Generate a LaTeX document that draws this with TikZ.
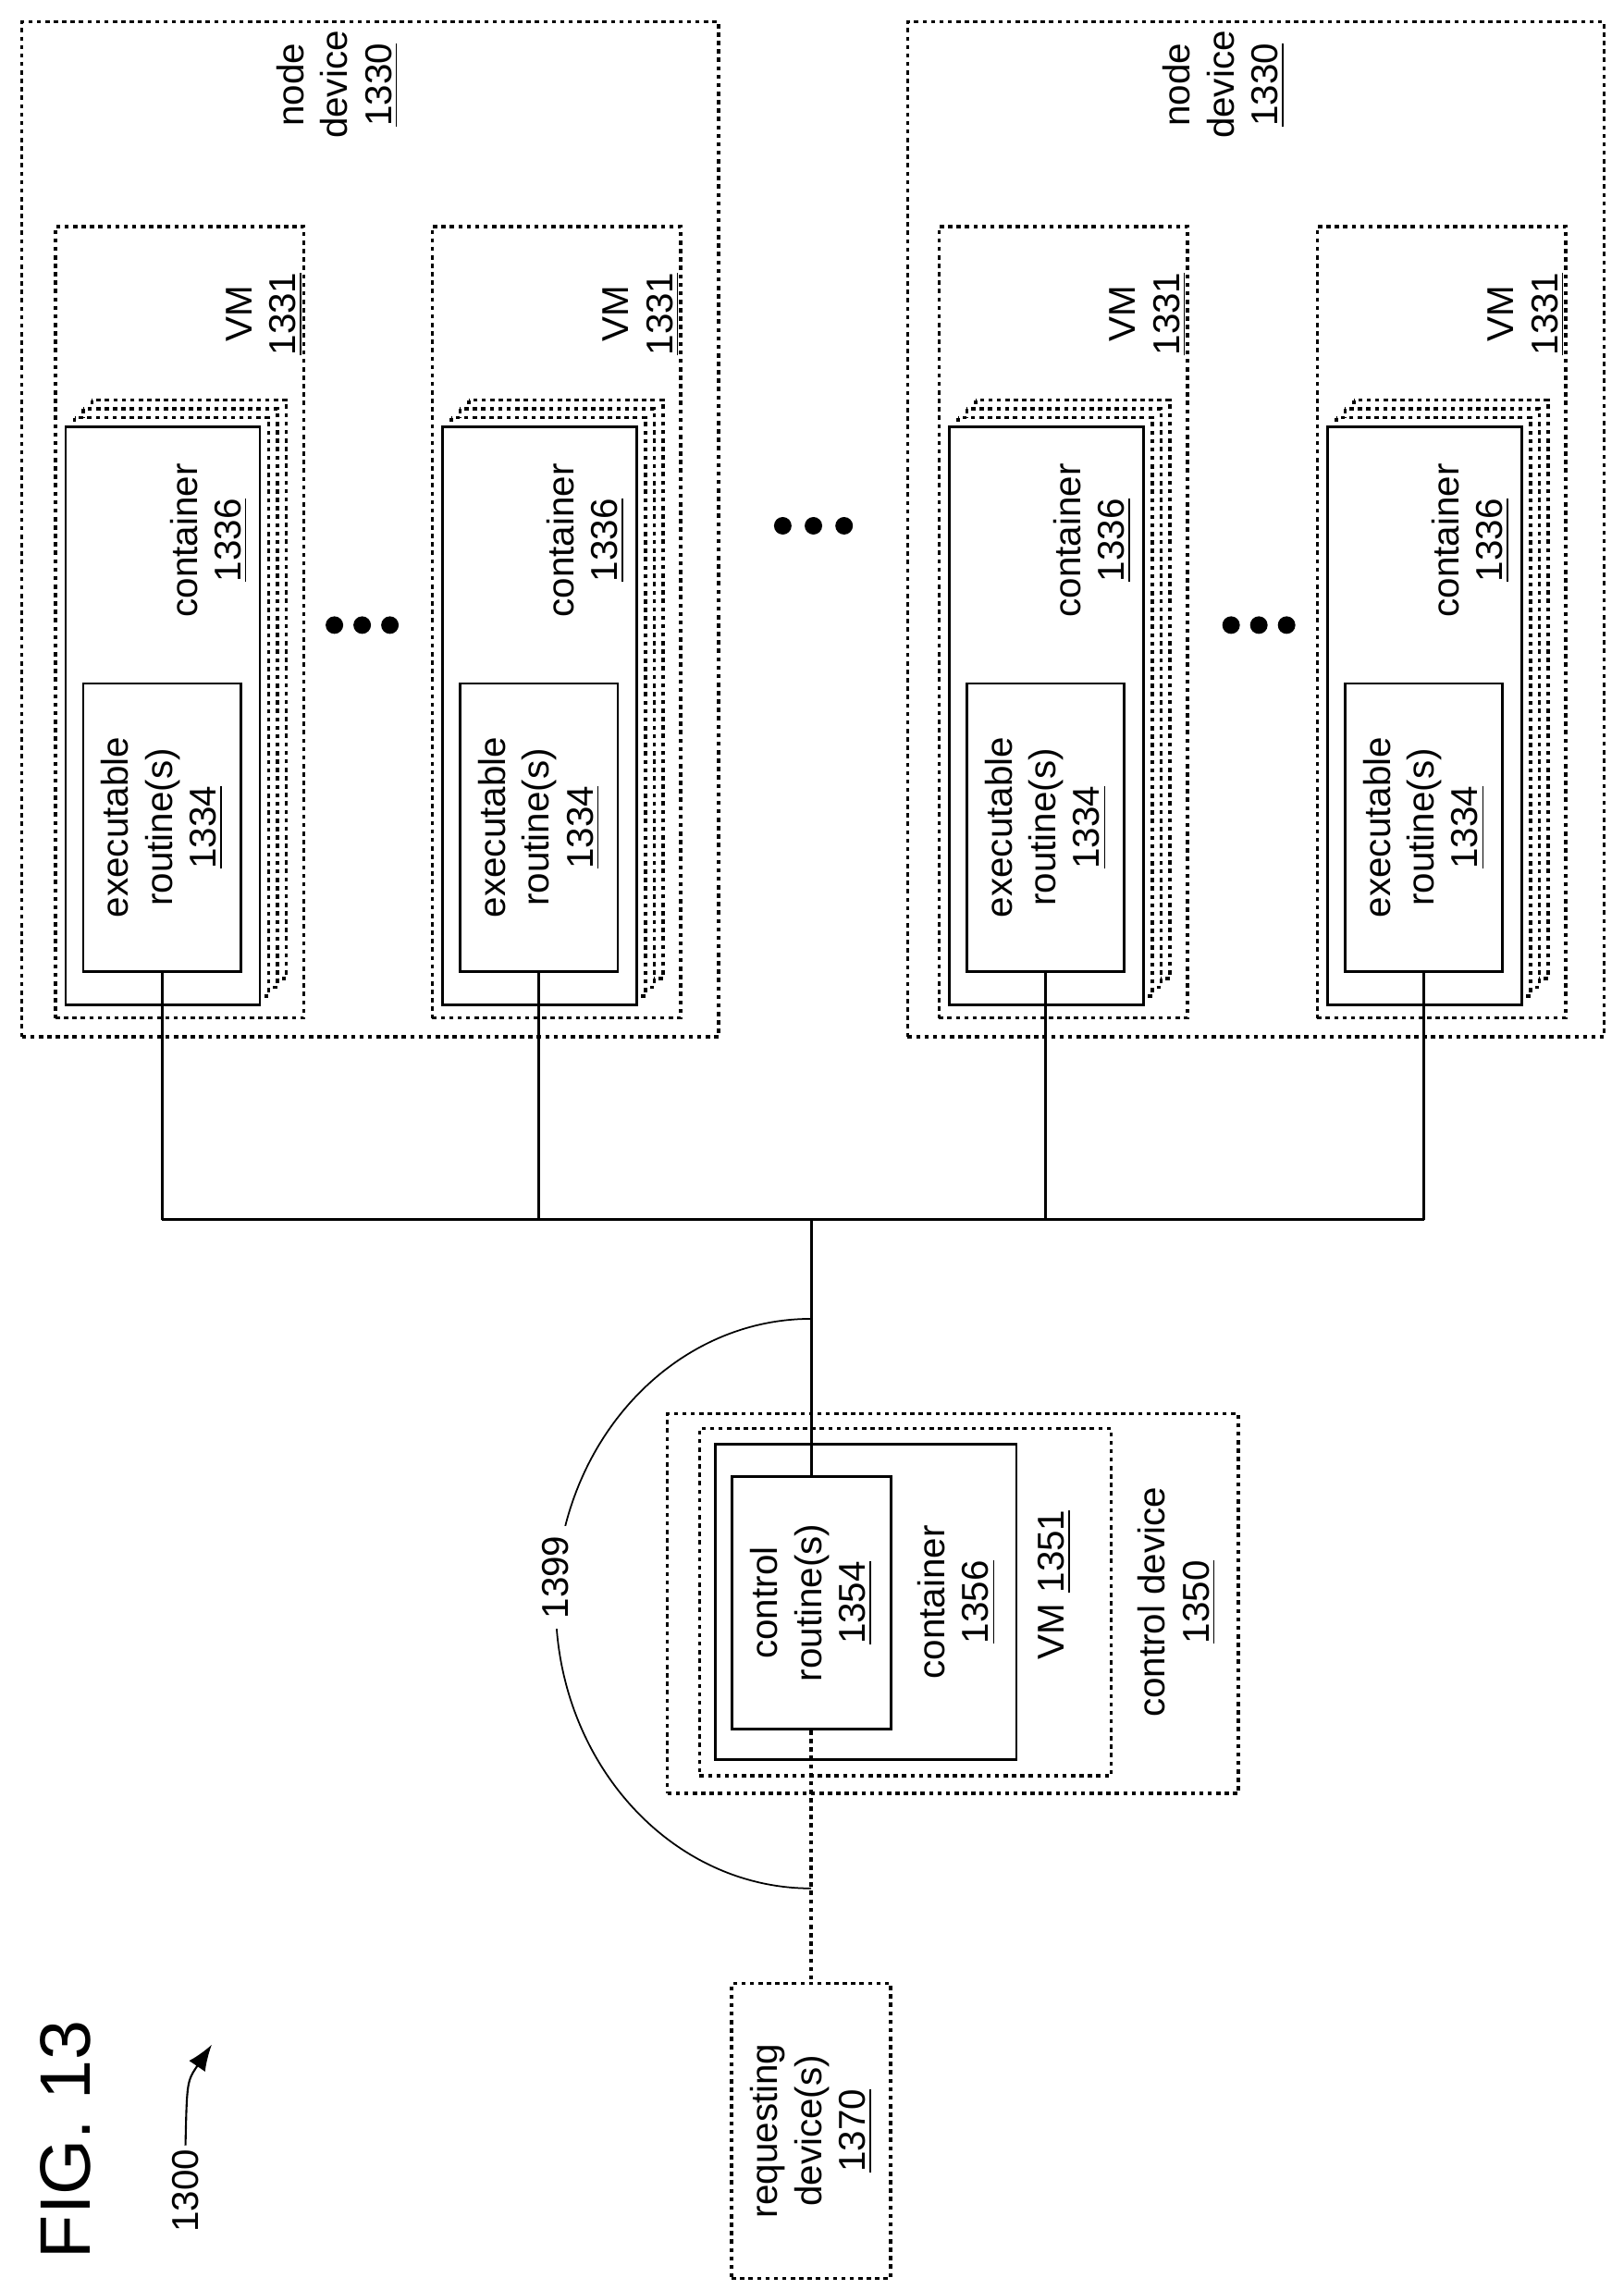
\documentclass[tikz,border=0pt]{standalone}
\usepackage{fontspec}
\setmainfont{Liberation Sans}
\usetikzlibrary{arrows.meta}
\def\u{0.01581cm}
\begin{document}
\begin{tikzpicture}[x=0.01581cm,y=-0.01581cm,
    dev/.style={draw,dash pattern=on 1.3pt off 1.3pt,line width=1pt,inner sep=0pt},
    box/.style={draw,line width=0.8pt,inner sep=0pt},
    lbl/.style={rotate=90,align=center,inner sep=1pt,font=\fontsize{11.5}{13.5}\selectfont}]
  \useasboundingbox (0,0) rectangle (1112,1568);
  %node devices
  \node[dev,minimum width=477*\u,minimum height=695*\u] (nd1) at (253.5,362.5) {};
  \node[dev,minimum width=477*\u,minimum height=695*\u] (nd2) at (860,362.5) {};
  \node[lbl] at (231,58) {node\\device\\\underline{1330}};
  \node[lbl] at (838,58) {node\\device\\\underline{1330}};
  \coordinate (bus) at (555.5,835);
  %VMs with containers
  \foreach \o/\n in {0/a,258/b,605/c,864/d} {
    \node[dev,minimum width=170*\u,minimum height=542*\u] (vm\n) at (123+\o,426) {};
    \node[lbl] at (181+\o,215) {VM\\\underline{1331}};
    \foreach \k in {3,2,1}
      \draw[dash pattern=on 1.3pt off 1.3pt,line width=1pt,fill=white]
        (45+\o+6*\k,292-6*\k) rectangle (178+\o+6*\k,688-6*\k);
    \node[box,fill=white,minimum width=133*\u,minimum height=396*\u] (ct\n) at (111.5+\o,490) {};
    \node[lbl] at (143+\o,370) {container\\\underline{1336}};
    \node[box,minimum width=108*\u,minimum height=197*\u] (ex\n) at (111+\o,566.5) {};
    \node[lbl] at (111+\o,566.5) {executable\\routine(s)\\\underline{1334}};
    \draw[line width=0.8pt] (ex\n.south) -- (ex\n.south |- bus);
  }
  \draw[line width=0.8pt] (exa.south |- bus) -- (exd.south |- bus);
  %ellipses
  \foreach \p in {(229,428),(248,428),(267,428),(536,360),(557,360),(578,360),(843,428),(862,428),(881,428)}
    \fill \p circle[radius=0.095cm];
  %control device
  \node[dev,minimum width=391*\u,minimum height=260*\u] (cd) at (652.5,1098) {};
  \node[dev,minimum width=282*\u,minimum height=238*\u] (cv) at (620,1097) {};
  \node[box,minimum width=206*\u,minimum height=216*\u] (cc) at (593,1097) {};
  \node[box,minimum width=109*\u,minimum height=173*\u] (cr) at (555.5,1097.5) {};
  \node[lbl] at (555.5,1097.5) {control\\routine(s)\\\underline{1354}};
  \node[lbl] at (655,1097) {container\\\underline{1356}};
  \node[lbl] at (722,1085) {VM \underline{1351}};
  \node[lbl] at (806,1097) {control device\\\underline{1350}};
  \draw[line width=0.8pt] (bus) -- (cr.north);
  %requesting device
  \node[dev,minimum width=109*\u,minimum height=202*\u] (rq) at (555.5,1459) {};
  \node[lbl] at (555.5,1459) {requesting\\device(s)\\\underline{1370}};
  \draw[dash pattern=on 1.3pt off 1.3pt,line width=1pt] (cr.south) -- (rq.north);
  %link 1399
  \draw[line width=0.5pt] (555.5,1293) arc[start angle=90,end angle=270,x radius=175,y radius=195];
  \node[lbl,fill=white,inner sep=3pt] (lk) at (380.5,1080) {1399};
  %figure label
  \node[rotate=90,font=\fontsize{22}{26}\selectfont] (fig) at (45,1465) {FIG. 13};
  \node[lbl] (ref) at (127,1500) {1300};
  \draw[line width=0.6pt,-{Latex[length=8pt,width=6pt]}] (ref.east) .. controls (128,1425) .. (145,1400);
\end{tikzpicture}
\end{document}
